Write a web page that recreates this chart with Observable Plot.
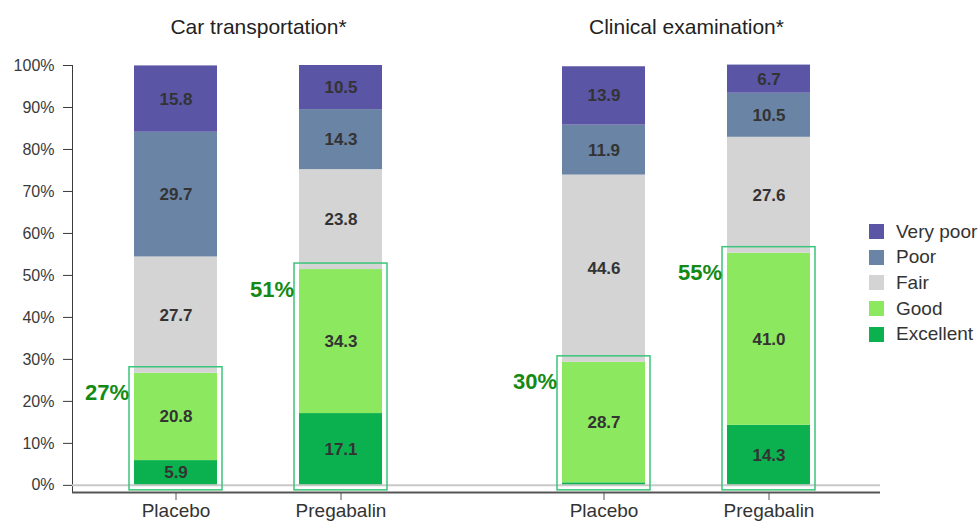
<!DOCTYPE html>
<html>
<head>
<meta charset="utf-8">
<script src="https://cdn.jsdelivr.net/npm/d3@7"></script>
<script src="https://cdn.jsdelivr.net/npm/@observablehq/plot@0.6"></script>
<style>
  body { margin: 0; background: #fff; font-family: "Liberation Sans", Arial, sans-serif; }
  #wrap { position: relative; width: 979px; height: 521px; overflow: hidden; }
  #legend { position: absolute; left: 869px; top: 219px; color: #333; font-size: 19px; }
  #legend .item { display: flex; align-items: center; height: 25.6px; white-space: nowrap; }
  #legend .sw { width: 15px; height: 15px; margin-right: 12px; flex: none; }
</style>
</head>
<body>
<div id="wrap"><div id="legend"></div></div>
<script>
// ---- data ----
const groups = ["Car transportation*", "Clinical examination*"];
const arms = ["Placebo", "Pregabalin"];
const ratings = ["Excellent", "Good", "Fair", "Poor", "Very poor"]; // bottom to top
const ratingColors = ["#0bb14f", "#8ce85f", "#d4d4d4", "#6a84a5", "#5a55a5"];

const carPlacebo     = [5.9, 20.8, 27.7, 29.7, 15.8];
const carPregabalin  = [17.1, 34.3, 23.8, 14.3, 10.5];
const clinPlacebo    = [0.6, 28.7, 44.6, 11.9, 13.9];
const clinPregabalin = [14.3, 41.0, 27.6, 10.5, 6.7];

const goodOrBetterLabels = [27, 51, 30, 55]; // "% good or excellent" callouts
const yTicks = [0, 10, 20, 30, 40, 50, 60, 70, 80, 90, 100];
const axisFloor = -1.7;

// ---- build tables ----
const series = [
  {group: groups[0], arm: arms[0], values: carPlacebo},
  {group: groups[0], arm: arms[1], values: carPregabalin},
  {group: groups[1], arm: arms[0], values: clinPlacebo},
  {group: groups[1], arm: arms[1], values: clinPregabalin}
];
const rows = series.flatMap(s => s.values.map((v, i) => ({group: s.group, arm: s.arm, rating: ratings[i], value: v})));
const boxes = series.map((s, i) => ({group: s.group, arm: s.arm, total: s.values[0] + s.values[1], label: goodOrBetterLabels[i] + "%"}));

// horizontal lines spanning both panels (first panel bridges the gap to the second)
const facetGap = 56, rightOverhang = 8;
function spanRule(yValue, style) {
  return [
    Plot.ruleY([{group: groups[0], y: yValue}], {fx: "group", y: "y", insetRight: -facetGap, ...style}),
    Plot.ruleY([{group: groups[1], y: yValue}], {fx: "group", y: "y", insetRight: -rightOverhang, ...style})
  ];
}

const chart = Plot.plot({
  width: 979,
  height: 521,
  marginLeft: 71,
  marginRight: 106,
  marginTop: 65,
  marginBottom: 29,
  style: {fontFamily: "'Liberation Sans', Arial, sans-serif", fontSize: "16px", color: "#3a3a3a", background: "#fff", overflow: "visible"},
  fx: {domain: groups, axis: null, paddingInner: 0.1305, paddingOuter: 0},
  x: {domain: arms, paddingInner: 0.5, paddingOuter: 0.3735},
  y: {domain: [axisFloor, 100], ticks: yTicks, tickFormat: d => d + "%", tickSize: 9, tickPadding: 9, line: true, label: null},
  color: {domain: ratings, range: ratingColors},
  marks: [
    Plot.barY(rows, {fx: "group", x: "arm", y: "value", fill: "rating", order: ratings}),
    Plot.text(rows, Plot.stackY({fx: "group", x: "arm", y: "value", z: "rating", order: ratings,
      text: d => d.value >= 2 ? d.value.toFixed(1) : "", fill: "#333", fontSize: 17, fontWeight: "bold"})),
    ...spanRule(0, {stroke: "#c8c8c8", strokeWidth: 2}),
    ...spanRule(axisFloor, {stroke: "#555", strokeWidth: 2}),
    Plot.barY(boxes, {fx: "group", x: "arm", y1: 0, y2: "total", fill: "none", stroke: "#3cc47a", strokeWidth: 1.5,
      insetLeft: -5, insetRight: -5, insetTop: -6, insetBottom: -5}),
    Plot.text(boxes, {fx: "group", x: "arm", y: "total", text: "label", textAnchor: "end", dx: -47, dy: 20,
      fill: "#148a14", fontSize: 22, fontWeight: "bold"}),
    Plot.text(groups, {fx: d => d, text: d => d, frameAnchor: "top", lineAnchor: "bottom", dy: -32, fontSize: 21, fill: "#222"}),
    Plot.axisX({fontSize: 19, tickSize: 8, tickPadding: 3, label: null, fill: "#333", stroke: "#555"})
  ]
});
document.getElementById("wrap").prepend(chart);

// legend (top to bottom: Very poor ... Excellent)
const legend = document.getElementById("legend");
ratings.slice().reverse().forEach(r => {
  const item = document.createElement("div");
  item.className = "item";
  const sw = document.createElement("span");
  sw.className = "sw";
  sw.style.background = ratingColors[ratings.indexOf(r)];
  const lab = document.createElement("span");
  lab.textContent = r;
  item.append(sw, lab);
  legend.append(item);
});
</script>
</body>
</html>
